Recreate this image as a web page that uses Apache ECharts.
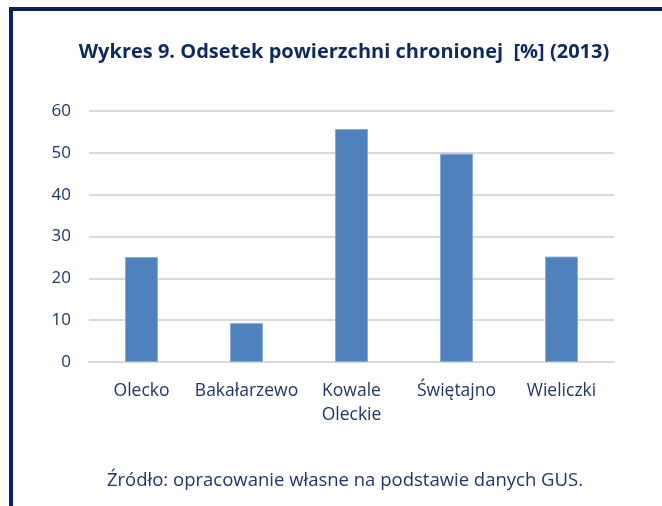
<!DOCTYPE html>
<html>
<head>
<meta charset="utf-8">
<script src="https://cdn.jsdelivr.net/npm/echarts@6/dist/echarts.min.js"></script>
<style>
  html, body { margin: 0; padding: 0; background: #fff; }
  #chart { width: 662px; height: 506px; }
</style>
</head>
<body>
<div id="chart"></div>
<script>
// dane
const categories = ['Olecko', 'Bakałarzewo', 'Kowale\nOleckie', 'Świętajno', 'Wieliczki'];
const values = [25.1, 9.3, 55.7, 49.8, 25.2];
const yTicks = [0, 10, 20, 30, 40, 50, 60];

const navy = '#0d2a5e';
const labelColor = '#1e3767';
const font = '"Open Sans", sans-serif';

let myEcharts = echarts.init(document.getElementById('chart'));
let option = {
  animation: false,
  backgroundColor: '#fff',
  title: [
    {
      text: 'Wykres 9. Odsetek powierzchni chronionej  [%] (2013)',
      left: 339,
      top: 37,
      textAlign: 'center',
      textStyle: { fontFamily: font, fontSize: 20, fontWeight: 'bold', color: navy }
    },
    {
      text: 'Źródło: opracowanie własne na podstawie danych GUS.',
      left: 340,
      top: 466,
      textAlign: 'center',
      textStyle: { fontFamily: font, fontSize: 18.5, fontWeight: 'normal', color: labelColor }
    }
  ],
  graphic: [
    {
      // ramka (lewa i górna krawędź)
      type: 'rect',
      shape: { x: 11, y: 9, width: 800, height: 700 },
      style: { fill: 'none', stroke: '#0b2160', lineWidth: 4 },
      silent: true
    }
  ],
  grid: { left: 89, right: 48, top: 111, bottom: 144 },
  xAxis: {
    type: 'category',
    data: categories,
    axisLine: { show: true, lineStyle: { color: '#d9d9d9', width: 2 } },
    axisTick: { show: false },
    axisLabel: {
      color: labelColor,
      fontFamily: font,
      fontSize: 17.5,
      margin: 17,
      lineHeight: 24,
      interval: 0
    }
  },
  yAxis: {
    type: 'value',
    min: yTicks[0],
    max: yTicks[yTicks.length - 1],
    interval: 10,
    axisLine: { show: false },
    axisTick: { show: false },
    axisLabel: { color: labelColor, fontFamily: font, fontSize: 17, margin: 18 },
    splitLine: { lineStyle: { color: '#d9d9d9', width: 2 } }
  },
  series: [
    {
      type: 'bar',
      data: values,
      barWidth: 33,
      itemStyle: { color: '#4f81bd', borderColor: '#8aabd6', borderWidth: 1 }
    }
  ]
};
myEcharts.setOption(option);
</script>
</body>
</html>
